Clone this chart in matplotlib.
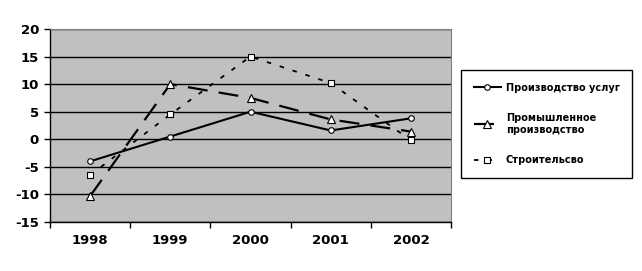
import matplotlib
matplotlib.use("Agg")
import matplotlib.pyplot as plt
import numpy as np

years = ["1998", "1999", "2000", "2001", "2002"]
services = [-4.0, 0.5, 5.0, 1.6, 3.8]
industry = [-10.3, 10.0, 7.5, 3.6, 1.4]
construction = [-6.5, 4.5, 15.0, 10.2, -0.2]
labels = ["Производство услуг", "Промышленное\nпроизводство", "Строительсво"]
yticks = [-15, -10, -5, 0, 5, 10, 15, 20]

plt.rcParams['font.family'] = ['DejaVu Sans']
fig = plt.figure(figsize=(6.42, 2.71), dpi=100)
W, H = 642, 271
ax = fig.add_axes([50 / W, 1 - 222 / H, (451 - 50) / W, (222 - 29) / H])
ax.set_facecolor('#C0C0C0')

x = np.arange(len(years))
l1, = ax.plot(x, services, color='black', lw=1.5, ls='-', marker='o', ms=4,
              mfc='white', mec='black', mew=0.8)
l2, = ax.plot(x, industry, color='black', lw=1.6, ls=(0, (9, 5)), marker='^', ms=5.5,
              mfc='white', mec='black', mew=0.8)
l3, = ax.plot(x, construction, color='black', lw=1.3, ls=(0, (2.5, 5)), marker='s', ms=5,
              mfc='white', mec='black', mew=0.8)

ax.set_xlim(-0.5, len(years) - 0.5)
ax.set_ylim(-15, 20)
ax.set_yticks(yticks)
ax.set_yticklabels([str(v) for v in yticks], fontsize=9.5, fontweight='bold')
ax.yaxis.grid(True, color='black', lw=1)
ax.set_axisbelow(True)

ax.set_xticks(x)
ax.set_xticklabels(years, fontsize=9.5, fontweight='bold')
ax.set_xticks(np.arange(len(years) + 1) - 0.5, minor=True)
ax.tick_params(axis='x', which='major', length=0, pad=9)
ax.tick_params(axis='x', which='minor', length=4, width=1, direction='out')
ax.tick_params(axis='y', length=4, width=1, direction='out', pad=4)

for s in ['top', 'right']:
    ax.spines[s].set_color('#808080')
for s in ['left', 'bottom']:
    ax.spines[s].set_color('black')
    ax.spines[s].set_linewidth(1)

leg = fig.legend([l1, l2, l3], labels, loc='upper left',
                 bbox_to_anchor=(461 / W, 1 - 70 / H), bbox_transform=fig.transFigure,
                 borderaxespad=0,
                 frameon=True, fancybox=False, edgecolor='black', framealpha=1,
                 prop={'size': 7, 'weight': 'bold'}, handlelength=2.8,
                 labelspacing=2.1, borderpad=1.3, handletextpad=0.5)
leg.get_frame().set_linewidth(1)

fig.savefig("out.png", dpi=100)
